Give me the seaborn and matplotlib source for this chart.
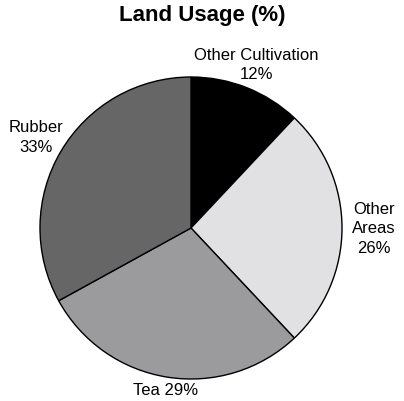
import numpy as np
import matplotlib
matplotlib.use("Agg")
import matplotlib.pyplot as plt
import seaborn as sns

categories = ["Other Cultivation", "Other Areas", "Tea", "Rubber"]
shares = [12, 26, 29, 33]
label_texts = ["Other Cultivation\n12%", "Other\nAreas\n26%", "Tea 29%", "Rubber\n33%"]

sns.set_theme(style="white")
plt.rcParams["font.family"] = ["Liberation Sans", "DejaVu Sans"]
plt.rcParams["text.color"] = "black"

colors = ["#000000", "#e1e1e3", "#9b9b9d", "#666667"]
label_dist = [1.17, 1.21, 1.08, 1.19]

fig = plt.figure(figsize=(4.04, 4.02), dpi=100)
ax = fig.add_axes([40 / 404, 22 / 402, 302 / 404, 302 / 402])

wedges, _ = ax.pie(shares, colors=colors, startangle=90, counterclock=False,
                   wedgeprops=dict(edgecolor="black", linewidth=1.0))
ax.set_xlim(-1, 1)
ax.set_ylim(-1, 1)

for w, txt, d in zip(wedges, label_texts, label_dist):
    ang = np.deg2rad((w.theta1 + w.theta2) / 2)
    ax.text(d * np.cos(ang), d * np.sin(ang), txt, ha="center", va="center",
            fontsize=12, linespacing=1.35, color="black", clip_on=False)

fig.text(0.5, 1 - 16 / 402, "Land Usage (%)", ha="center", va="center",
         fontsize=16, fontweight="bold", color="black")

fig.savefig("out.png", dpi=100)
